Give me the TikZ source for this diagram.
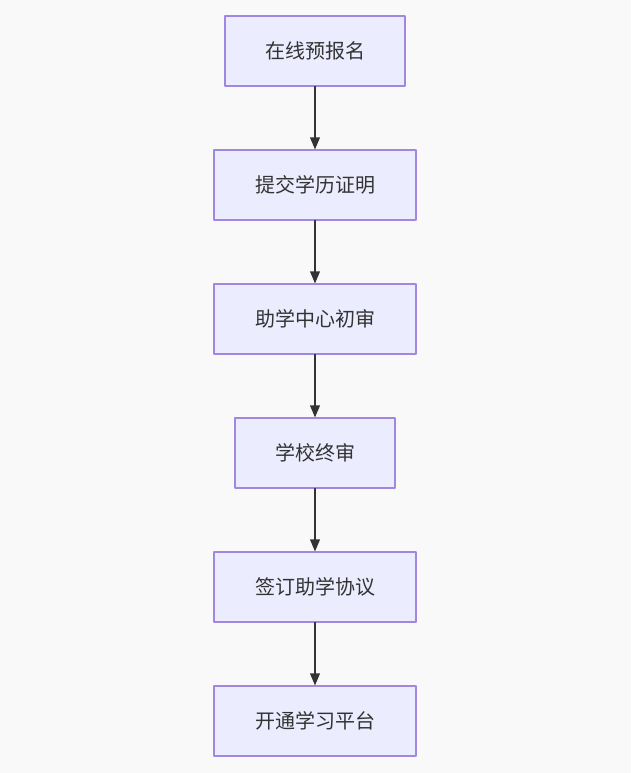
\documentclass[tikz,border=0pt]{standalone}
\usepackage{fontspec}
\setmainfont{Noto Sans CJK SC}
\usepackage{tikz}
\usetikzlibrary{arrows}
\definecolor{bgcol}{HTML}{F9F9F9}
\definecolor{boxfill}{HTML}{ECECFF}
\definecolor{boxline}{HTML}{A287E0}
\definecolor{linkcol}{HTML}{333333}
\tikzset{
  stepnode/.style={draw=boxline,fill=boxfill,line width=0.9pt,minimum height=52.5pt,
    inner sep=0pt,font=\fontsize{15}{18}\selectfont,text=linkcol},
  link/.style={->,draw=linkcol,line width=1.1pt}
}
\begin{document}
\begin{tikzpicture}[line cap=round,line join=round,>=triangle 45,x=0.75pt,y=0.75pt]
\fill [bgcol] (0,0) rectangle (631,-773);
\node [stepnode,minimum width=135pt] (baoming) at (315,-51) {在线预报名};
\node [stepnode,minimum width=151.5pt] (xueli) at (315,-185) {提交学历证明};
\node [stepnode,minimum width=151.5pt] (chushen) at (315,-319) {助学中心初审};
\node [stepnode,minimum width=120pt] (zhongshen) at (315,-453) {学校终审};
\node [stepnode,minimum width=151.5pt] (xieyi) at (315,-587) {签订助学协议};
\node [stepnode,minimum width=151.5pt] (pingtai) at (315,-721) {开通学习平台};
\draw [link] (baoming) -- (xueli);
\draw [link] (xueli) -- (chushen);
\draw [link] (chushen) -- (zhongshen);
\draw [link] (zhongshen) -- (xieyi);
\draw [link] (xieyi) -- (pingtai);
\end{tikzpicture}
\end{document}
